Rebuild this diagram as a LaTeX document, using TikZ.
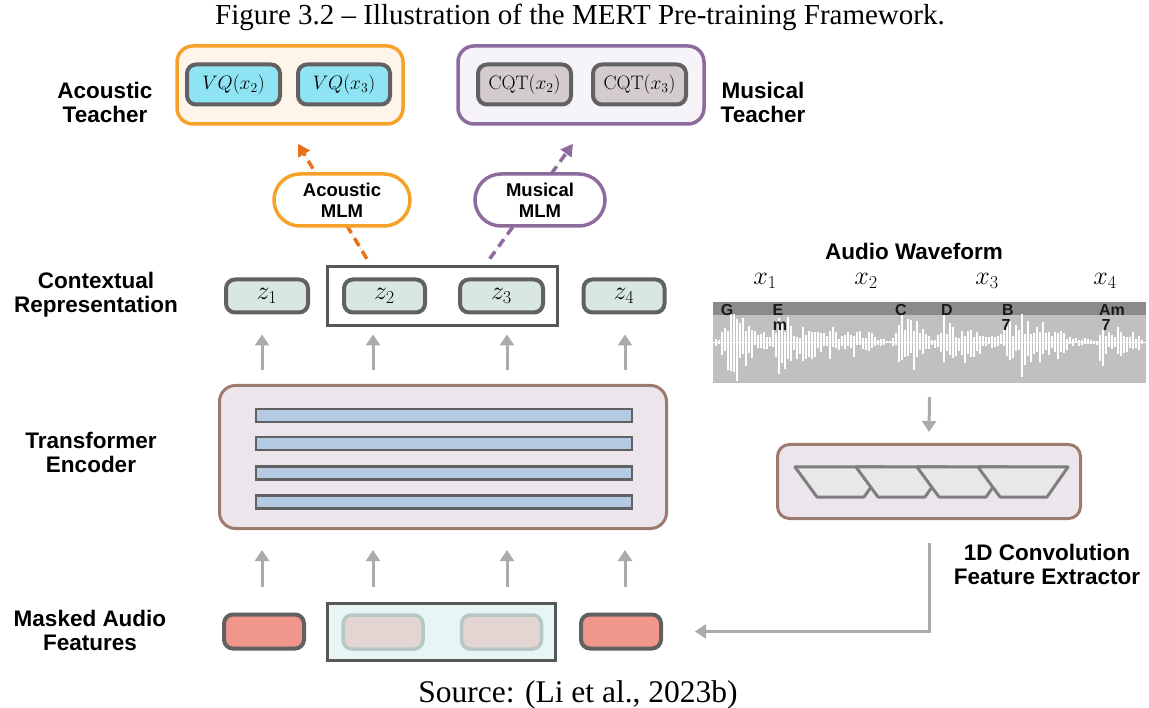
\RequirePackage{fix-cm}
\documentclass[tikz,border=0pt]{standalone}
\usepackage[no-math]{fontspec}
\setmainfont{Liberation Serif}
\setsansfont{Liberation Sans}
\usetikzlibrary{arrows.meta,calc}

\definecolor{acorange}{HTML}{F6A22A}
\definecolor{acarrow}{HTML}{E8711C}
\definecolor{acfill}{HTML}{FEF5EA}
\definecolor{vqcyan}{HTML}{8EE4F3}
\definecolor{boxgray}{HTML}{616161}
\definecolor{mpurple}{HTML}{8D6B9C}
\definecolor{mfill}{HTML}{F6F4F8}
\definecolor{cqtfill}{HTML}{D3CBCF}
\definecolor{zfill}{HTML}{D8E8E1}
\definecolor{encfill}{HTML}{ECE6EC}
\definecolor{encdraw}{HTML}{9C7A6E}
\definecolor{barfill}{HTML}{B3CAE2}
\definecolor{mred}{HTML}{F0968B}
\definecolor{mgfill}{HTML}{E7F5F5}
\definecolor{mifill}{HTML}{E3D6D2}
\definecolor{midraw}{HTML}{B8C7C4}
\definecolor{arrgray}{HTML}{ABABAB}
\definecolor{waveband}{HTML}{8B8B8B}
\definecolor{wavebody}{HTML}{C0C0C0}
\definecolor{trapfill}{HTML}{E8E8E8}
\definecolor{trapdraw}{HTML}{7F7F7F}

% decaying spike envelope: onset, height, decay length
\def\pk#1#2#3{#2*exp(-min(12,max(\x-#1,4*(#1-\x))/#3))}

\begin{document}
\begin{tikzpicture}[x=1pt,y=-1pt,
  lbl/.style={font=\sffamily\bfseries\fontsize{22.5}{24}\selectfont, align=center},
  mlmtext/.style={font=\sffamily\bfseries\fontsize{18.5}{21}\selectfont, align=center},
  chord/.style={font=\sffamily\bfseries\fontsize{16}{16}\selectfont, anchor=base, text=black!90},
  teacher/.style={line width=3.5pt, rounded corners=16pt, inner sep=0pt},
  token/.style={draw=boxgray, line width=4pt, rounded corners=9pt, inner sep=0pt,
    minimum height=40pt, font=\fontsize{19.5}{19.5}\selectfont},
  ztok/.style={draw=boxgray, fill=zfill, line width=4pt, rounded corners=9pt, inner sep=0pt,
    minimum height=33pt, font=\fontsize{26}{26}\selectfont},
  mtok/.style={draw=boxgray, fill=mred, line width=4pt, rounded corners=9pt, inner sep=0pt,
    minimum width=80pt, minimum height=34pt},
  ghost/.style={draw=midraw, fill=mifill, line width=3.5pt, rounded corners=9pt, inner sep=0pt,
    minimum width=80pt, minimum height=34pt},
  group/.style={draw=boxgray!90!black, line width=3.5pt, inner sep=0pt},
  pill/.style={fill=white, line width=3.5pt, rounded corners=26pt, inner sep=0pt,
    minimum height=52pt},
  module/.style={draw=encdraw, fill=encfill, line width=3pt, inner sep=0pt},
  layerbar/.style={draw=boxgray, fill=barfill, line width=2.5pt, inner sep=0pt,
    minimum width=376pt, minimum height=13pt},
  garrow/.style={draw=arrgray, line width=3pt, -{Triangle[length=11pt,width=14pt]}},
  gline/.style={draw=arrgray, line width=3pt, -{Triangle[length=11pt,width=14pt]}},
  dasharrow/.style={line width=3.5pt, dash pattern=on 9pt off 6pt,
    -{Triangle[length=12pt,width=13pt]}},
  trap/.style={draw=trapdraw, fill=trapfill, line width=3pt, line join=round},
]
\useasboundingbox (0,0) rectangle (1149,708);

% caption and source
\node[anchor=base, font=\fontsize{29}{32}\selectfont] (cap) at (580,25)
  {Figure 3.2 \textendash\ Illustration of the MERT Pre-training Framework.};
\node[anchor=base, font=\fontsize{31.5}{34}\selectfont] (src) at (578,702)
  {Source: (Li et al., 2023b)};

% teachers
\node[teacher, draw=acorange, fill=acfill, minimum width=226pt, minimum height=78pt] (acT) at (290,85) {};
\node[token, fill=vqcyan, minimum width=93pt] (vq2) at (233.5,84.5) {$VQ(x_2)$};
\node[token, fill=vqcyan, minimum width=92pt] (vq3) at (344,84.5) {$VQ(x_3)$};
\node[teacher, draw=mpurple, fill=mfill, minimum width=246pt, minimum height=78pt] (muT) at (581,85) {};
\node[token, fill=cqtfill, minimum width=93pt] (cqt2) at (524.5,84.5) {$\mathrm{CQT}(x_2)$};
\node[token, fill=cqtfill, minimum width=93pt] (cqt3) at (639.5,84.5) {$\mathrm{CQT}(x_3)$};
\node[lbl] (acTl) at (105,102) {Acoustic\\Teacher};
\node[lbl] (muTl) at (763,102) {Musical\\Teacher};

% contextual representation
\node[ztok, minimum width=82pt] (z1) at (267,296) {$z_1$};
\node[ztok, minimum width=81pt] (z2) at (384.5,296) {$z_2$};
\node[ztok, minimum width=83pt] (z3) at (501.5,296) {$z_3$};
\node[ztok, minimum width=81pt] (z4) at (624,296) {$z_4$};
\node[group, minimum width=230pt, minimum height=59pt] (grp) at (442.5,296) {};
\node[lbl] (ctxl) at (96,295) {Contextual\\Representation};

% masked language modelling heads
\coordinate (acS) at ($(grp.north west)+(41,-6)$);
\coordinate (acE) at ($(acT.south)+(8,18)$);
\coordinate (muS) at ($(grp.north west)+(164,-6)$);
\coordinate (muE) at ($(muT.south)+(-8,18)$);
\draw[dasharrow, draw=acarrow, fill=acarrow] (acS) -- (acE);
\draw[dasharrow, draw=mpurple, fill=mpurple] (muS) -- (muE);
\node[pill, draw=acorange, minimum width=136pt] (acM) at (342,200) {};
\node[mlmtext] at (acM) {Acoustic\\MLM};
\node[pill, draw=mpurple, minimum width=130pt] (muM) at (540,200) {};
\node[mlmtext] at (muM) {Musical\\MLM};

% transformer encoder
\node[module, rounded corners=16pt, minimum width=447pt, minimum height=143pt] (enc) at (443,457) {};
\foreach \yy [count=\i] in {415.5,443.5,473,502}
  \node[layerbar] (bar\i) at (444,\yy) {};
\node[lbl] (encl) at (91,452) {Transformer\\Encoder};

% masked audio features
\node[mtok] (m1) at (264,631.5) {};
\node[group, fill=mgfill, minimum width=228pt, minimum height=57pt] (mgrp) at (441.5,632) {};
\node[ghost] (m2) at (383,632) {};
\node[ghost] (m3) at (501.5,632) {};
\node[mtok] (m4) at (621,631.5) {};
\node[lbl] (mafl) at (90,630) {Masked Audio\\Features};

% arrows into and out of the encoder
\foreach \n/\dx in {z1/-5,z2/-11.5,z3/5.5,z4/1}
  \draw[garrow] ($(enc.north -| \n.south)+(\dx,-14)$) -- ($(\n.south)+(\dx,20)$);
\foreach \n/\dx in {m1/-2,m2/-10,m3/5.5,m4/4}
  \draw[garrow] ($(mgrp.north -| \n.north)+(\dx,-15)$) -- ($(enc.south -| \n.north)+(\dx,20)$);

% audio waveform
\node[lbl] (wavl) at (914,251) {Audio Waveform};
\foreach \t/\xx in {1/765,2/866,3/987,4/1105}
  \node[font=\fontsize{26}{26}\selectfont] (xl\t) at (\xx,281) {$x_\t$};
\node[fill=wavebody, minimum width=433pt, minimum height=81pt, inner sep=0pt] (wave) at (929.5,342.5) {};
\fill[waveband] (wave.north west) rectangle ($(wave.north east)+(0,13)$);
\begin{scope}
  \clip ($(wave.north west)+(0,13)$) rectangle (wave.south east);
  \draw[white, line width=1.5pt] (wave.west) -- (wave.east);
  \pgfmathsetseed{5}
  \foreach \x in {716,719,...,1144}{
    \pgfmathsetmacro\env{1+\pk{726}{40}{16}+\pk{734}{30}{14}+\pk{779}{40}{18}+\pk{806}{18}{12}
      +\pk{830}{14}{14}+\pk{852}{16}{12}+\pk{870}{6}{10}+\pk{900}{42}{10}+\pk{912}{20}{12}
      +\pk{944}{26}{16}+\pk{966}{24}{10}+\pk{980}{10}{10}+\pk{1006}{32}{14}+\pk{1022}{26}{12}
      +\pk{1040}{18}{12}+\pk{1058}{12}{10}+\pk{1085}{5}{10}+\pk{1101}{30}{8}+\pk{1118}{16}{10}
      +\pk{1132}{12}{8}}
    \pgfmathsetmacro\hu{\env*(0.2+0.8*rnd)}
    \pgfmathsetmacro\hd{\env*(0.2+0.8*rnd)}
    \draw[white, line width=1.6pt] (\x,342-\hu) -- (\x,342+\hd);
  }
\end{scope}
\node[chord] (cG) at (727,316) {G};
\node[chord] (cE) at (778,316) {E};
\node[chord] (cEm) at (780,331) {m};
\node[chord] (cC) at (901,316) {C};
\node[chord] (cD) at (947,316) {D};
\node[chord] (cB) at (1008,316) {B};
\node[chord] (cB7) at (1006,331) {7};
\node[chord] (cA) at (1112,316) {Am};
\node[chord] (cA7) at (1106,331) {7};

% convolutional feature extractor
\node[module, rounded corners=12pt, minimum width=303pt, minimum height=74pt] (conv) at (929,481.5) {};
\foreach \a in {795,856,917,978}
  \filldraw[trap] (\a,467) -- ++(90,0) -- ++(-21,30) -- ++(-47,0) -- cycle;
\node[lbl] (convl) at (1047,564) {1D Convolution\\Feature Extractor};
\draw[garrow] ($(wave.south)+(0,14)$) -- ($(conv.north)+(0,-11)$);
\draw[gline] ($(conv.south)+(0,23)$) |- ($(m4.east)+(32,0)$);
\end{tikzpicture}
\end{document}
